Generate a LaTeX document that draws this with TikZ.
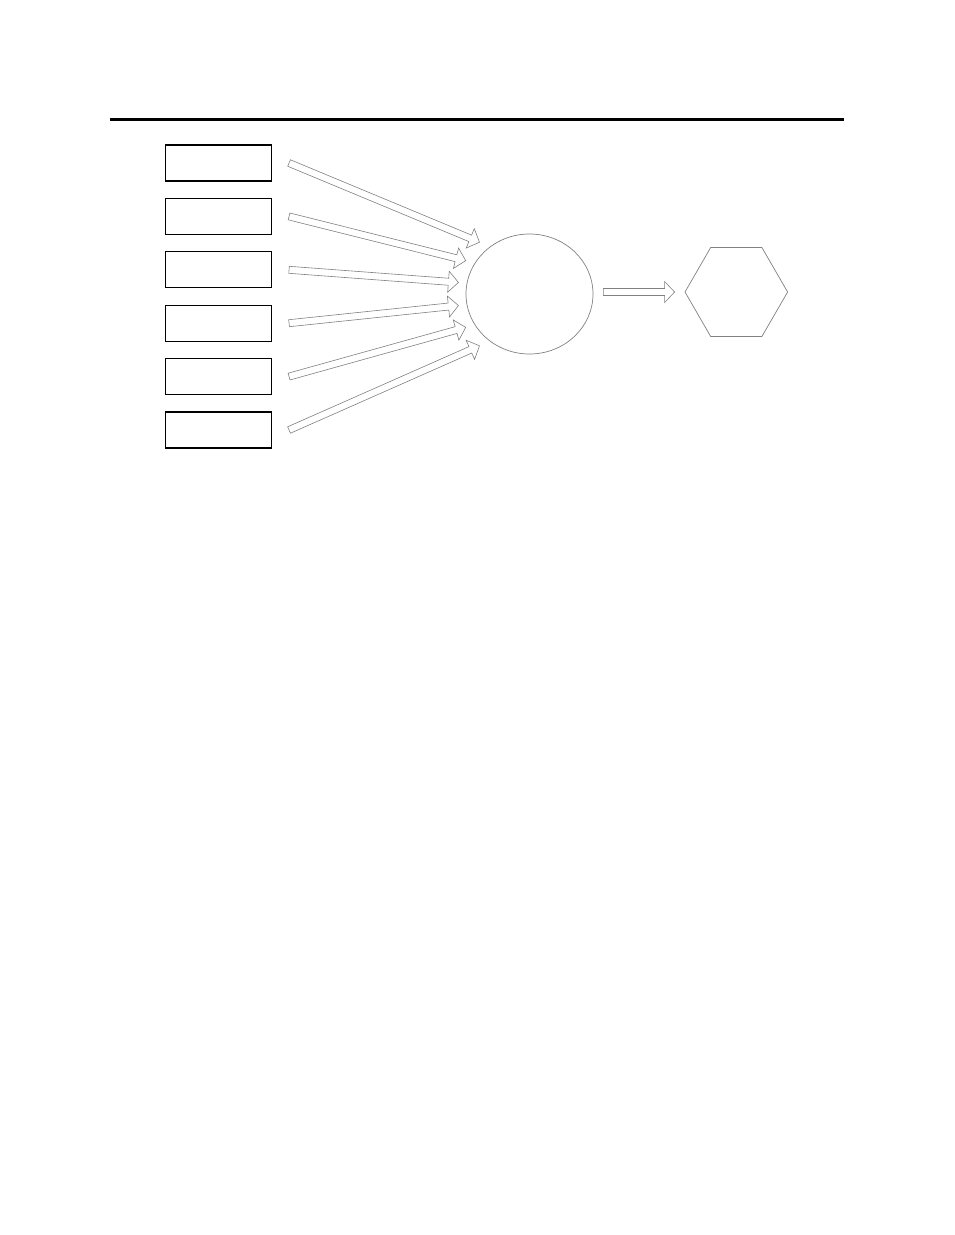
\documentclass[tikz,border=0pt]{standalone}
\usepackage{tikz}
\usetikzlibrary{calc,%
                shapes.geometric,positioning}

\newcommand{\FatArrow}[2]{%
  \coordinate (hb) at ($(#2)!10pt!(#1)$);
  \draw[arrowline] ($(#1)!3.5pt!90:(#2)$) -- ($(hb)!3.5pt!90:(#2)$) -- ($(hb)!10.5pt!90:(#2)$) -- (#2)
    -- ($(hb)!10.5pt!-90:(#2)$) -- ($(hb)!3.5pt!-90:(#2)$) -- ($(#1)!3.5pt!-90:(#2)$) -- cycle;}

\begin{document}
\begin{tikzpicture}[x=1pt,y=-1pt,
  inbox/.style={draw,line width=1.1pt,minimum width=106pt,minimum height=36pt,inner sep=0pt},
  arrowline/.style={draw=gray,line width=0.6pt,fill=white,line join=miter},
  thinshape/.style={draw=gray,line width=0.7pt,inner sep=0pt}]
\useasboundingbox (0,0) rectangle (954,1235);
\draw[line width=3pt] (110,119.5) -- (844,119.5);

\foreach \i in {1,...,6}
  \node[inbox] (IN\i) at (218.5,{163+53.4*(\i-1)}) {};

\node[ellipse,thinshape,minimum width=127pt,minimum height=120pt] (C) at (529.5,294) {};
\node[regular polygon,regular polygon sides=6,thinshape,minimum size=102.6pt] (H) at (736.3,292) {};

\foreach \i in {1,...,6}{
  \coordinate (S\i) at ([xshift=17pt]IN\i.east);
  \coordinate (E\i) at ($(C.center)+({134+18.4*(\i-1)}:72pt)$);
  \FatArrow{S\i}{E\i}
}

\coordinate (S7) at ($(C.east |- H.west)+(10pt,0)$);
\coordinate (E7) at ($(H.west)+(-10pt,0)$);
\FatArrow{S7}{E7}

\end{tikzpicture}
\end{document}
